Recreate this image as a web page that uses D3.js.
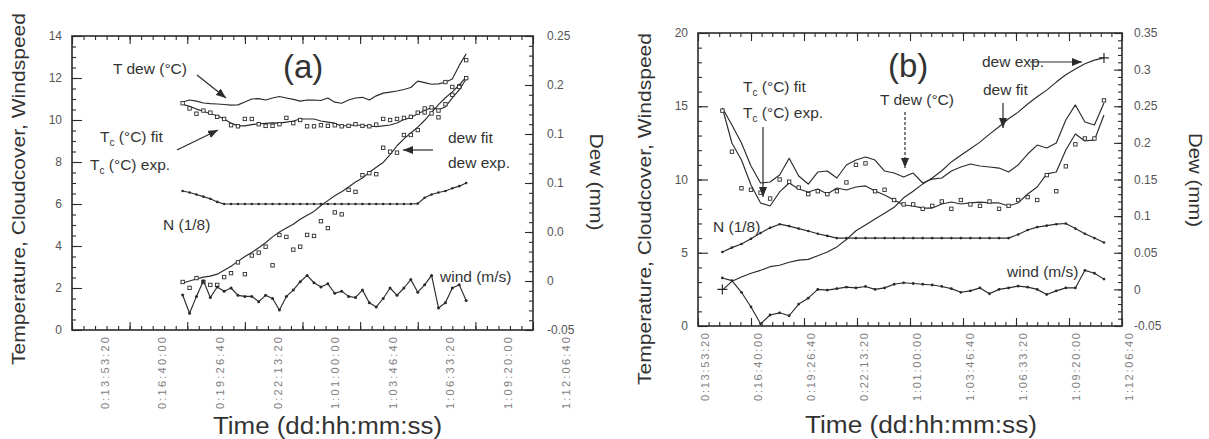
<!DOCTYPE html>
<html>
<head>
<meta charset="utf-8">
<script src="https://cdn.jsdelivr.net/npm/d3@7"></script>
<style>
  body { margin: 0; background: #fff; }
  svg text { font-family: Arial, "Liberation Sans", sans-serif; fill: #333; }
  .tick-labels text { font-size: 12px; fill: #555; }
  .tick-labels .time { font-size: 11px; fill: #808080; }
</style>
</head>
<body>
<svg id="chart" width="1209" height="439"></svg>
<script>
// shared time axis (seconds since start, shown as dd:hh:mm:ss)
var TIME_VALUES = [50000, 60000, 70000, 80000, 90000, 100000, 110000, 120000, 130000];
var TIME_LABELS = ['0:13:53:20', '0:16:40:00', '0:19:26:40', '0:22:13:20', '1:01:00:00',
                   '1:03:46:40', '1:06:33:20', '1:09:20:00', '1:12:06:40'];

// ---- panel (a) ----
var aTime = [64200, 65400, 66600, 67800, 69000, 70200, 71400, 72600, 73800, 75000,
             76200, 77400, 78600, 79800, 81000, 82200, 83400, 84600, 85800, 87000,
             88200, 89400, 90600, 91800, 93000, 94200, 95400, 96600, 97800, 99000,
             100200, 101400, 102600, 103800, 105000, 106200, 107400, 108600, 109800, 111000,
             112200, 113400];
var aTdew = [10.86, 10.95, 10.9, 10.81, 10.78, 10.76, 10.74, 10.71, 10.72, 10.86,
             11.0, 11.02, 10.95, 11.05, 11.12, 11.05, 10.98, 10.9, 10.95, 10.95,
             10.93, 11.05, 10.85, 10.8, 10.95, 11.05, 11.08, 10.95, 11.15, 11.28,
             11.33, 11.38, 11.45, 11.55, 11.85, 11.78, 11.7, 11.72, 11.8, 11.95,
             12.6, 13.15];
var aTcFit = [10.75, 10.65, 10.52, 10.42, 10.3, 10.2, 10.05, 9.85, 9.72, 9.72,
              9.78, 9.82, 9.84, 9.86, 9.85, 9.9, 9.95, 10.05, 10.05, 10.05,
              9.95, 9.9, 9.85, 9.7, 9.75, 9.76, 9.74, 9.72, 9.68, 9.72,
              9.76, 9.86, 10.02, 10.12, 10.3, 10.45, 10.6, 10.5, 10.62, 11.05,
              11.43, 11.95];
var aTcExp = [10.8, 10.55, 10.3, 10.45, 10.35, 10.15, 10.05, 9.75, 9.7, 10.05,
              10.05, 9.8, 9.72, 9.72, 9.8, 10.1, 9.85, 10.0, 9.7, 9.7,
              9.75, 9.72, 9.75, 9.7, 9.72, 9.8, 9.72, 9.7, 9.78, 10.05,
              10.0, 10.05, 10.1, 10.15, 10.35, 10.55, 10.6, 10.45, 10.75, 11.2,
              11.6, 12.85];
var aDewFit = [-0.002, 0.0, 0.002, 0.004, 0.005, 0.007, 0.011, 0.015, 0.02, 0.025,
               0.029, 0.034, 0.039, 0.045, 0.05, 0.054, 0.058, 0.063, 0.067, 0.071,
               0.077, 0.082, 0.087, 0.091, 0.096, 0.101, 0.105, 0.111, 0.116, 0.121,
               0.129, 0.138, 0.145, 0.151, 0.157, 0.164, 0.172, 0.18, 0.187, 0.193,
               0.2, 0.208];
var aDewExp = [-0.001, -0.007, 0.003, -0.001, -0.004, -0.004, 0.004, 0.008, 0.019, 0.007,
               0.026, 0.029, 0.035, 0.016, 0.047, 0.045, 0.032, 0.035, 0.047, 0.046,
               0.061, 0.054, 0.07, 0.068, 0.093, 0.091, 0.108, 0.11, 0.109, 0.136,
               0.132, 0.131, 0.149, 0.149, 0.154, 0.172, 0.171, 0.167, 0.203, 0.198,
               0.198, 0.207];
var aCloud = [6.62, 6.55, 6.45, 6.35, 6.25, 6.1, 6.0, 6.0, 6.0, 6.0,
              6.0, 6.0, 6.0, 6.0, 6.0, 6.0, 6.0, 6.0, 6.0, 6.0,
              6.0, 6.0, 6.0, 6.0, 6.0, 6.0, 6.0, 6.0, 6.0, 6.0,
              6.0, 6.0, 6.0, 6.0, 6.02, 6.3, 6.45, 6.55, 6.62, 6.75,
              6.85, 7.0];
var aWind = [1.67, 0.8, 1.6, 2.35, 1.55, 2.05, 1.85, 2.0, 1.65, 1.6,
             1.6, 1.35, 1.65, 1.5, 0.95, 1.6, 1.9, 2.3, 2.6, 2.25,
             2.05, 2.2, 1.75, 1.85, 1.6, 1.55, 1.9, 1.3, 1.1, 1.5,
             2.0, 1.65, 2.0, 2.4, 1.8, 2.15, 2.6, 1.05, 1.3, 2.0,
             2.15, 1.4];
var aTempTicks = [0, 2, 4, 6, 8, 10, 12, 14];
var aDewTicks = [-0.05, 0, 0.05, 0.1, 0.15, 0.2, 0.25];
var aDewTickLabels = ['-0.05', '0', '0.0', '0.1', '0.1', '0.2', '0.25'];

// ---- panel (b) ----
var bTime = [54600, 56400, 58200, 60000, 61800, 63600, 65400, 67200, 69000, 70800,
             72600, 74400, 76200, 78000, 79800, 81600, 83400, 85200, 87000, 88800,
             90600, 92400, 94200, 96000, 97800, 99600, 101400, 103200, 105000, 106800,
             108600, 110400, 112200, 114000, 115800, 117600, 119400, 121200, 123000, 124800,
             126600];
var bTdew = [14.88, 13.72, 12.49, 10.92, 9.76, 9.83, 10.31, 11.45, 10.24, 9.69,
             10.51, 10.58, 10.1, 10.99, 11.33, 11.54, 11.33, 10.58, 10.44, 10.17,
             10.44, 9.76, 10.03, 10.1, 10.58, 10.85, 11.06, 10.92, 10.85, 10.78,
             10.51, 10.99, 11.74, 12.35, 12.15, 12.49, 14.06, 15.09, 13.92, 13.72,
             15.22];
var bTcFit = [14.88, 12.49, 11.33, 9.62, 8.4, 8.19, 9.15, 9.76, 9.35, 9.15,
              9.35, 9.01, 9.42, 9.28, 9.49, 9.56, 9.22, 8.94, 8.6, 8.26,
              8.19, 8.05, 8.05, 8.33, 8.46, 8.33, 8.4, 8.46, 8.4, 8.4,
              8.19, 8.4, 9.01, 9.49, 10.38, 10.51, 12.01, 13.11, 12.63, 12.7,
              14.4];
var bTcExp = [14.7, 11.9, 9.4, 9.3, 9.1, 8.7, 10.0, 9.85, 9.45, 9.0,
              9.2, 9.0, 9.2, 9.8, 11.0, 11.1, 9.2, 9.3, 8.6, 8.3,
              8.3, 8.0, 8.2, 8.5, 8.0, 8.6, 8.3, 8.2, 8.5, 8.0,
              8.2, 8.6, 8.8, 8.6, 10.3, 9.2, 10.9, 12.4, 12.8, 12.8,
              15.4];
var bDewFit = [-0.001, 0.011, 0.017, 0.022, 0.026, 0.031, 0.033, 0.037, 0.04, 0.041,
               0.046, 0.051, 0.058, 0.068, 0.08, 0.088, 0.096, 0.104, 0.112, 0.125,
               0.134, 0.144, 0.152, 0.162, 0.174, 0.183, 0.192, 0.201, 0.212, 0.222,
               0.233, 0.242, 0.253, 0.263, 0.272, 0.283, 0.293, 0.301, 0.308, 0.313,
               0.316];
var bDewExpTime = [54600, 126600];
var bDewExp = [0.0, 0.316];
var bCloud = [5.05, 5.35, 5.6, 5.95, 6.35, 6.7, 6.95, 6.82, 6.65, 6.48,
              6.3, 6.15, 6.0, 6.0, 6.0, 6.0, 6.0, 6.0, 6.0, 6.0,
              6.0, 6.0, 6.0, 6.0, 6.0, 6.0, 6.0, 6.0, 6.0, 6.0,
              6.0, 6.25, 6.55, 6.75, 6.85, 6.95, 7.0, 6.65, 6.3, 6.0,
              5.7];
var bWind = [3.28, 3.1, 2.3, 1.3, 0.15, 0.75, 0.9, 0.7, 1.5, 1.9,
             2.5, 2.45, 2.55, 2.65, 2.6, 2.7, 2.5, 2.6, 2.85, 2.95,
             2.9, 2.85, 2.8, 2.7, 2.55, 2.3, 2.4, 2.6, 2.2, 2.5,
             2.6, 2.72, 2.65, 2.5, 2.15, 2.4, 2.6, 2.6, 3.8, 3.6,
             3.2];
var bTempTicks = [0, 5, 10, 15, 20];
var bDewTicks = [-0.05, 0, 0.05, 0.1, 0.15, 0.2, 0.25, 0.3, 0.35];
var bDewTickLabels = ['-0.05', '0', '0.05', '0.1', '0.15', '0.2', '0.25', '0.3', '0.35'];

var INK = '#2b2b2b';
var svg = d3.select('#chart');

var defs = svg.append('defs');
defs.append('marker')
  .attr('id', 'head')
  .attr('viewBox', '0 0 10 8')
  .attr('refX', 10).attr('refY', 4)
  .attr('markerWidth', 10).attr('markerHeight', 8)
  .attr('markerUnits', 'userSpaceOnUse')
  .attr('orient', 'auto')
  .append('path')
  .attr('d', 'M0,0 L10,4 L0,8 z')
  .attr('fill', INK);

function rows(times, values) {
  return times.map((t, i) => ({ t: t, v: values[i] }));
};

function panel_object(box, xDomain, yDomain, y2Domain) {
  return {
    g: svg.append('g'),
    box: box,
    x: d3.scaleLinear().domain(xDomain).range([box.left, box.right]),
    y: d3.scaleLinear().domain(yDomain).range([box.bottom, box.top]),
    y2: d3.scaleLinear().domain(y2Domain).range([box.bottom, box.top])
  };
};

function panel_ticks(p, o) {
  var b = p.box;
  var sides = [
    { axis: () => d3.axisBottom(p.x), at: `translate(0,${ b.bottom })`, major: o.xMajor, minor: o.xMinor },
    { axis: () => d3.axisTop(p.x), at: `translate(0,${ b.top })`, major: o.xMajor, minor: o.xMinor },
    { axis: () => d3.axisLeft(p.y), at: `translate(${ b.left },0)`, major: o.yMajor, minor: o.yMinor, long: true },
    { axis: () => d3.axisRight(p.y2), at: `translate(${ b.right },0)`, major: o.y2Major, minor: o.y2Minor }
  ];

  sides.forEach(s => {
    [[s.minor, 4], [s.major, s.long ? 10 : 8]].forEach(([vals, len]) => {
      p.g.append('g')
        .attr('transform', s.at)
        .attr('color', INK)
        .call(s.axis().tickValues(vals).tickSize(-len).tickFormat(''))
        .call(g => g.select('.domain').remove())
        .call(g => g.selectAll('line').attr('stroke-width', 1.1));
    });
  });

  p.g.append('rect')
    .attr('x', b.left).attr('y', b.top)
    .attr('width', b.right - b.left).attr('height', b.bottom - b.top)
    .attr('fill', 'none').attr('stroke', INK).attr('stroke-width', 1.6);
};

function panel_tick_labels(p, o) {
  var b = p.box;
  var g = p.g.append('g').attr('class', 'tick-labels');

  o.yTicks.forEach(v => g.append('text')
    .attr('x', b.left - 10).attr('y', p.y(v))
    .attr('dy', '0.35em').attr('text-anchor', 'end')
    .text(v));

  o.y2Ticks.forEach((v, i) => g.append('text')
    .attr('x', b.right + o.y2Gap).attr('y', p.y2(v))
    .attr('dy', '0.35em')
    .text(o.y2Labels[i]));

  TIME_VALUES.forEach((v, i) => g.append('text')
    .attr('class', 'time')
    .attr('transform', `translate(${ p.x(v) + o.xShift },${ b.bottom + 7 }) rotate(-90)`)
    .attr('dy', '0.35em').attr('text-anchor', 'end')
    .attr('textLength', o.xLabelLen).attr('lengthAdjust', 'spacing')
    .text(TIME_LABELS[i]));
};

function panel_titles(p, o) {
  p.g.append('text')
    .attr('x', o.xTitle[0]).attr('y', o.xTitle[1])
    .attr('font-size', 23).attr('textLength', o.xTitle[2]).attr('lengthAdjust', 'spacingAndGlyphs')
    .text('Time (dd:hh:mm:ss)');

  p.g.append('text')
    .attr('transform', `translate(${ o.yTitle[0] },${ o.yTitle[1] }) rotate(-90)`)
    .attr('text-anchor', 'middle')
    .attr('font-size', 19).attr('textLength', o.yTitle[2]).attr('lengthAdjust', 'spacingAndGlyphs')
    .text('Temperature, Cloudcover, Windspeed');

  p.g.append('text')
    .attr('transform', `translate(${ o.y2Title[0] },${ o.y2Title[1] }) rotate(90)`)
    .attr('text-anchor', 'middle')
    .attr('font-size', 19).attr('textLength', o.y2Title[2]).attr('lengthAdjust', 'spacingAndGlyphs')
    .text('Dew (mm)');
};

function panel_line(p, scale, data, dashed) {
  p.g.append('path')
    .datum(data)
    .attr('fill', 'none')
    .attr('stroke', INK)
    .attr('stroke-width', 1.15)
    .attr('stroke-linejoin', 'round')
    .attr('stroke-dasharray', dashed ? '3,2' : null)
    .attr('d', d3.line().x(d => p.x(d.t)).y(d => scale(d.v)));
};

function panel_dots(p, scale, data, r) {
  p.g.append('g').selectAll('circle')
    .data(data).join('circle')
    .attr('cx', d => p.x(d.t)).attr('cy', d => scale(d.v))
    .attr('r', r).attr('fill', INK);
};

function panel_squares(p, scale, data) {
  var s = 3.4;
  p.g.append('g').selectAll('rect')
    .data(data).join('rect')
    .attr('x', d => p.x(d.t) - s / 2).attr('y', d => scale(d.v) - s / 2)
    .attr('width', s).attr('height', s)
    .attr('fill', '#fff').attr('stroke', INK).attr('stroke-width', 0.9);
};

function panel_plus(p, scale, data) {
  var h = 5;
  p.g.append('g').selectAll('path')
    .data(data).join('path')
    .attr('d', d => {
      var x = p.x(d.t), y = scale(d.v);
      return `M${ x - h },${ y }H${ x + h }M${ x },${ y - h }V${ y + h }`;
    })
    .attr('stroke', INK).attr('stroke-width', 1.2);
};

// text placed relative to the panel's top-left corner; parts: [text, isSubscript]
function panel_text(p, dx, dy, parts, size) {
  var t = p.g.append('text')
    .attr('x', p.box.left + dx).attr('y', p.box.top + dy)
    .attr('font-size', size || 15.5);
  var shift = 0;
  parts.forEach(([s, sub]) => {
    var dyv = sub ? 4 : -shift;
    shift = sub ? 4 : 0;
    t.append('tspan').attr('dy', dyv).attr('font-size', sub ? 10 : null).text(s);
  });
};

function panel_arrow(p, x1, y1, x2, y2, dashed) {
  var b = p.box;
  p.g.append('line')
    .attr('x1', b.left + x1).attr('y1', b.top + y1)
    .attr('x2', b.left + x2).attr('y2', b.top + y2)
    .attr('stroke', INK).attr('stroke-width', 1.2)
    .attr('stroke-dasharray', dashed ? '3,2' : null)
    .attr('marker-end', 'url(#head)');
};

function range_div(a, b, div) {
  return d3.range(a, b + 1).map(d => d / div);
};

// ---------- panel (a) ----------
var pa = panel_object({ left: 72, right: 533, top: 36, bottom: 330 },
                      [45000, 125000], [0, 14], [-0.05, 0.25]);

panel_ticks(pa, {
  xMajor: d3.range(45000, 125001, 10000), xMinor: d3.range(45000, 125001, 2000),
  yMajor: aTempTicks, yMinor: range_div(0, 28, 2),
  y2Major: aDewTicks, y2Minor: range_div(-5, 25, 100)
});
panel_tick_labels(pa, {
  yTicks: aTempTicks, y2Ticks: aDewTicks, y2Labels: aDewTickLabels,
  y2Gap: 14, xShift: 4, xLabelLen: 72
});
panel_titles(pa, { xTitle: [213, 434, 229], yTitle: [25, 189, 352], y2Title: [590, 182, 97] });

panel_line(pa, pa.y, rows(aTime, aTdew));
panel_line(pa, pa.y, rows(aTime, aTcFit));
panel_squares(pa, pa.y, rows(aTime, aTcExp));
panel_line(pa, pa.y2, rows(aTime, aDewFit));
panel_squares(pa, pa.y2, rows(aTime, aDewExp));
panel_line(pa, pa.y, rows(aTime, aCloud));
panel_dots(pa, pa.y, rows(aTime, aCloud), 1.3);
panel_line(pa, pa.y, rows(aTime, aWind));
panel_dots(pa, pa.y, rows(aTime, aWind), 1.5);

panel_text(pa, 211, 42, [['(a)']], 33);
panel_text(pa, 41, 38, [['T dew (°C)']]);
panel_arrow(pa, 125, 39, 154, 62);
panel_text(pa, 28, 106, [['T'], ['c', true], [' (°C) fit']]);
panel_text(pa, 18, 134, [['T'], ['c', true], [' (°C) exp.']]);
panel_arrow(pa, 105, 114, 146, 94);
panel_text(pa, 91, 194, [['N (1/8)']]);
panel_text(pa, 376, 107, [['dew fit']]);
panel_text(pa, 376, 132, [['dew exp.']]);
panel_arrow(pa, 361, 114, 331, 114);
panel_text(pa, 368, 246, [['wind (m/s)']]);

// ---------- panel (b) ----------
var pb = panel_object({ left: 698, right: 1122, top: 33, bottom: 326 },
                      [50000, 130000], [0, 20], [-0.05, 0.35]);

panel_ticks(pb, {
  xMajor: d3.range(50000, 130001, 10000), xMinor: d3.range(50000, 130001, 2000),
  yMajor: bTempTicks, yMinor: d3.range(0, 21, 1),
  y2Major: bDewTicks, y2Minor: range_div(-5, 35, 100)
});
panel_tick_labels(pb, {
  yTicks: bTempTicks, y2Ticks: bDewTicks, y2Labels: bDewTickLabels,
  y2Gap: 12, xShift: 7, xLabelLen: 68
});
panel_titles(pb, { xTitle: [805, 433, 232], yTitle: [651, 209, 352], y2Title: [1189, 180, 94] });

panel_line(pb, pb.y, rows(bTime, bTdew));
panel_line(pb, pb.y, rows(bTime, bTcFit));
panel_squares(pb, pb.y, rows(bTime, bTcExp));
panel_line(pb, pb.y2, rows(bTime, bDewFit));
panel_plus(pb, pb.y2, rows(bDewExpTime, bDewExp));
panel_line(pb, pb.y, rows(bTime, bCloud));
panel_dots(pb, pb.y, rows(bTime, bCloud), 1.3);
panel_line(pb, pb.y, rows(bTime, bWind));
panel_dots(pb, pb.y, rows(bTime, bWind), 1.4);

panel_text(pb, 190, 44, [['(b)']], 33);
panel_text(pb, 45, 59, [['T'], ['c', true], [' (°C) fit']]);
panel_text(pb, 45, 85, [['T'], ['c', true], [' (°C) exp.']]);
panel_arrow(pb, 65, 94, 65, 164);
panel_text(pb, 182, 72, [['T dew (°C)']]);
panel_arrow(pb, 207, 79, 207, 135, true);
panel_text(pb, 284, 34, [['dew exp.']]);
panel_arrow(pb, 332, 29, 384, 29);
panel_text(pb, 285, 62, [['dew fit']]);
panel_arrow(pb, 305, 70, 305, 95);
panel_text(pb, 15, 199, [['N (1/8)']]);
panel_text(pb, 309, 244, [['wind (m/s)']]);
</script>
</body>
</html>
